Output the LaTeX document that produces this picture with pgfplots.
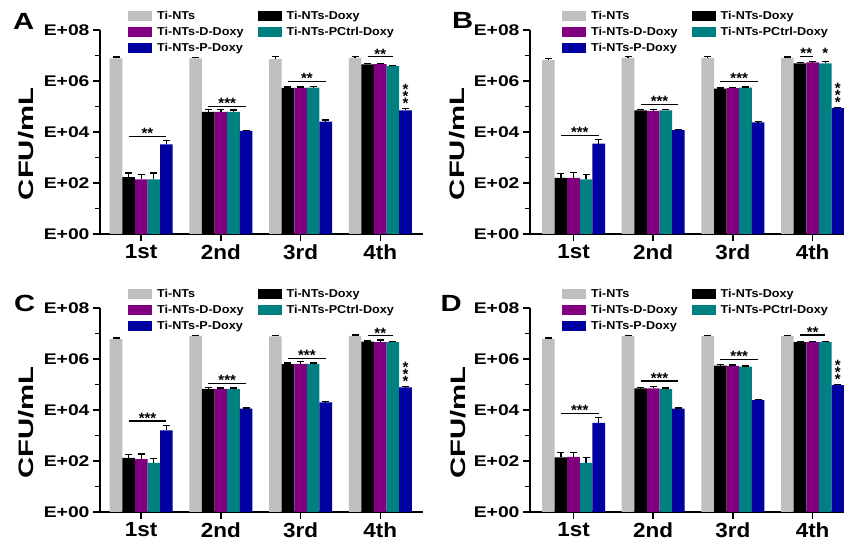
\documentclass[border=0pt]{standalone}
\usepackage{pgfplots}
\pgfplotsset{compat=1.18}
\usepackage{pgfplotstable}
\usepackage{fontspec}
\setmainfont{Liberation Sans}
\newfontfamily\fA{Liberation Sans}[FakeStretch=1.25]
\newfontfamily\fB{Liberation Sans}[FakeStretch=1.1]
\newfontfamily\fC{Liberation Sans}[FakeStretch=1.4]
\definecolor{cgray}{HTML}{BFBFBF}
\definecolor{cpurp}{HTML}{800080}
\definecolor{cteal}{HTML}{008080}
\definecolor{cblue}{HTML}{0000A0}

\pgfplotstableread{
x g ge k ke p pe t te b be
0 6.885 0.06 2.23 0.16 2.14 0.20 2.14 0.25 3.51 0.16
1 6.885 0.05 4.79 0.10 4.79 0.10 4.79 0.07 4.04 0.03
2 6.86 0.09 5.73 0.04 5.73 0.03 5.74 0.05 4.41 0.06
3 6.91 0.04 6.65 0.04 6.66 0.03 6.58 0.03 4.85 0.06
}\dataA
\pgfplotstableread{
x g ge k ke p pe t te b be
0 6.82 0.05 2.20 0.16 2.20 0.20 2.14 0.20 3.54 0.16
1 6.91 0.04 4.85 0.04 4.83 0.04 4.85 0.04 4.07 0.03
2 6.91 0.04 5.70 0.03 5.72 0.03 5.74 0.03 4.38 0.03
3 6.91 0.03 6.69 0.04 6.73 0.03 6.69 0.08 4.94 0.03
}\dataB
\pgfplotstableread{
x g ge k ke p pe t te b be
0 6.78 0.04 2.12 0.14 2.07 0.20 1.93 0.17 3.20 0.20
1 6.90 0.03 4.83 0.04 4.83 0.03 4.83 0.03 4.05 0.03
2 6.89 0.04 5.80 0.04 5.81 0.10 5.81 0.03 4.30 0.03
3 6.91 0.03 6.68 0.03 6.66 0.08 6.66 0.03 4.89 0.03
}\dataC
\pgfplotstableread{
x g ge k ke p pe t te b be
0 6.79 0.03 2.14 0.20 2.16 0.17 1.93 0.22 3.50 0.20
1 6.90 0.03 4.85 0.03 4.85 0.07 4.83 0.03 4.05 0.03
2 6.90 0.03 5.74 0.04 5.73 0.03 5.70 0.03 4.39 0.03
3 6.90 0.03 6.66 0.03 6.66 0.03 6.66 0.03 4.98 0.03
}\dataD

\tikzset{
  sigstar/.style={anchor=base, inner sep=0pt, yshift=-2.5bp, font=\bfseries\fontsize{15}{15}\selectfont},
  vstar/.style={anchor=south, inner sep=0pt, align=center, font=\bfseries\fontsize{15}{15}\selectfont},
  ylab/.style={rotate=90, anchor=center, inner sep=0pt, font=\fC\bfseries\fontsize{21}{21}\selectfont},
  plet/.style={anchor=base west, inner sep=0pt, font=\fA\bfseries\fontsize{23.5}{23.5}\selectfont},
}
\pgfplotsset{
  sqleg/.style={legend image code/.code={\fill[##1] (0bp,-5bp) rectangle (24bp,5bp); \path (29bp,0bp);}},
  ebar/.style={error bars/.cd, y dir=plus, y explicit,
    error bar style={line width=1.3bp, black},
    error mark options={rotate=90, mark size=3.5bp, line width=1.3bp, black}},
  panel/.style={
    scale only axis, height=204bp,
    ybar=0pt, bar width=12.6bp,
    ymin=0, ymax=8, enlargelimits=false,
    ytick={0,2,4,6,8}, yticklabels={E+00,E+02,E+04,E+06,E+08},
    minor ytick={1,3,5,7},
    xtick={0,1,2,3}, xticklabels={1st,2nd,3rd,4th},
    axis x line=bottom, axis y line=left,
    axis line style={-, line width=1.5bp},
    tick align=outside, major tick length=7bp, minor tick length=5bp,
    tick style={line width=1.5bp, black},
    yticklabel style={font=\fA\bfseries\fontsize{15.5}{15.5}\selectfont},
    xticklabel style={font=\fB\bfseries\fontsize{20.5}{20.5}\selectfont},
    legend columns=2, legend cell align=left,
    legend style={draw=none, fill=none, inner sep=0pt, anchor=north west, row sep=5bp,
      nodes={inner sep=0pt, text height=9bp, text depth=2bp, font=\fB\bfseries\fontsize{11.5}{11.5}\selectfont},
      /tikz/every even column/.append style={column sep=14bp}},
  },
}

\newcommand\bars[1]{%
  \addplot[fill=cgray, draw=none, sqleg, ebar] table[x=x, y=g, y error=ge]{#1};
  \addplot[fill=black, draw=none, sqleg, ebar] table[x=x, y=k, y error=ke]{#1};
  \addplot[fill=cpurp, draw=none, sqleg, ebar] table[x=x, y=p, y error=pe]{#1};
  \addplot[fill=cteal, draw=none, sqleg, ebar] table[x=x, y=t, y error=te]{#1};
  \addplot[fill=cblue, draw=none, sqleg, ebar] table[x=x, y=b, y error=be]{#1};
  \legend{Ti-NTs,Ti-NTs-Doxy,Ti-NTs-D-Doxy,Ti-NTs-PCtrl-Doxy,Ti-NTs-P-Doxy}
}
% #1 x1, #2 x2, #3 mid, #4 y, #5 stars
\newcommand\sig[5]{%
  \draw[line width=1.3bp] (axis cs:#1,#4) -- (axis cs:#2,#4);
  \node[sigstar] at (axis cs:#3,#4) {#5};
}
\newcommand\vst{*\\[-8bp]*\\[-8bp]*}

\begin{document}
\begin{tikzpicture}
\useasboundingbox (0,0) rectangle (844bp,541bp);

% Panel A
\begin{axis}[panel, width=323bp, xmin=-0.517, xmax=3.536,
  at={(100bp,307bp)}, anchor=south west,
  legend style={at={(0.0867,1.0956)}}]
\bars{\dataA}
\sig{-0.158}{0.316}{0.079}{3.83}{**}
\sig{0.842}{1.316}{1.079}{5.01}{***}
\sig{1.842}{2.316}{2.079}{5.99}{**}
\sig{2.842}{3.158}{3.0}{6.95}{**}
\node[vstar] at (axis cs:3.316,4.91) {\vst};
\end{axis}

% Panel B
\begin{axis}[panel, width=314bp, xmin=-0.546, xmax=3.394,
  at={(530bp,307bp)}, anchor=south west,
  legend style={at={(0.102,1.0956)}}]
\bars{\dataB}
\sig{-0.158}{0.316}{0.079}{3.87}{***}
\sig{0.842}{1.316}{1.079}{5.08}{***}
\sig{1.842}{2.316}{2.079}{5.99}{***}
\sig{2.842}{3.0}{2.921}{6.97}{**}
\node[sigstar] at (axis cs:3.158,6.97) {*};
\node[vstar] at (axis cs:3.316,4.97) {\vst};
\end{axis}

% Panel C
\begin{axis}[panel, width=323bp, xmin=-0.517, xmax=3.536,
  at={(100bp,29bp)}, anchor=south west,
  legend style={at={(0.0867,1.0956)}}]
\bars{\dataC}
\sig{-0.158}{0.316}{0.079}{3.57}{***}
\sig{0.842}{1.316}{1.079}{5.05}{***}
\sig{1.842}{2.316}{2.079}{6.03}{***}
\sig{2.842}{3.158}{3.0}{6.92}{**}
\node[vstar] at (axis cs:3.316,4.92) {\vst};
\end{axis}

% Panel D
\begin{axis}[panel, width=314bp, xmin=-0.546, xmax=3.394,
  at={(530bp,29bp)}, anchor=south west,
  legend style={at={(0.102,1.0956)}}]
\bars{\dataD}
\sig{-0.158}{0.316}{0.079}{3.87}{***}
\sig{0.842}{1.316}{1.079}{5.14}{***}
\sig{1.842}{2.316}{2.079}{5.99}{***}
\sig{2.842}{3.158}{3.0}{6.94}{**}
\node[vstar] at (axis cs:3.316,5.01) {\vst};
\end{axis}

\node[ylab] at (26bp,397bp) {CFU/mL};
\node[ylab] at (457.5bp,397bp) {CFU/mL};
\node[ylab] at (26bp,118.5bp) {CFU/mL};
\node[ylab] at (458.5bp,118.5bp) {CFU/mL};

\node[plet] at (13bp,511bp) {A};
\node[plet] at (452bp,512.7bp) {B};
\node[plet] at (14bp,229.3bp) {C};
\node[plet] at (440.5bp,229.3bp) {D};
\end{tikzpicture}
\end{document}
